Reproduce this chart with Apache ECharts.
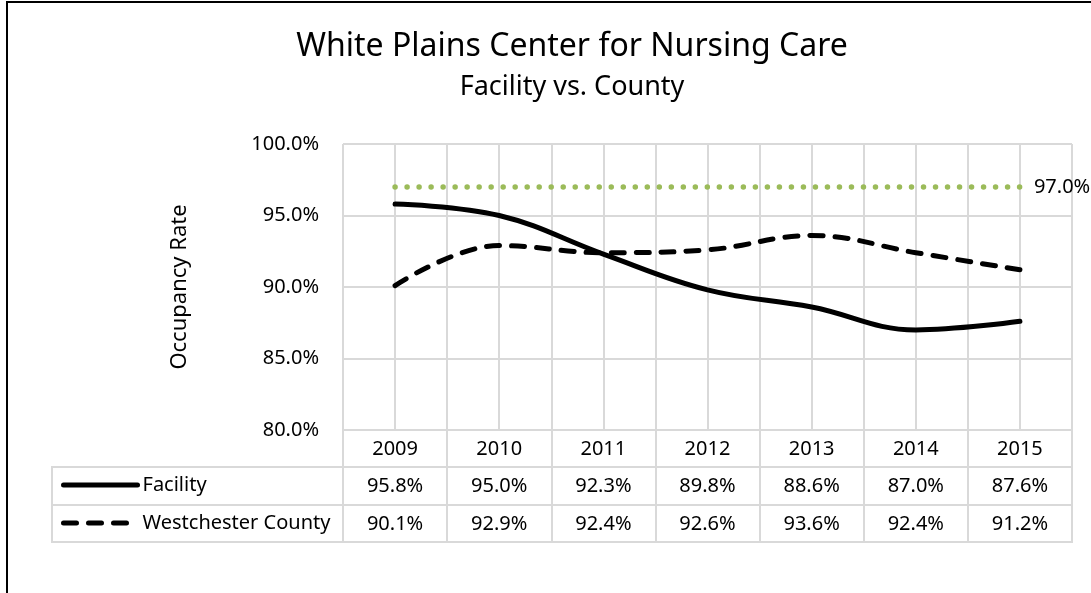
<!DOCTYPE html>
<html>
<head>
<meta charset="utf-8">
<script src="https://cdn.jsdelivr.net/npm/echarts@6/dist/echarts.min.js"></script>
<style>
  html, body { margin: 0; padding: 0; background: #fff; }
  #main { width: 1091px; height: 593px; }
</style>
</head>
<body>
<div id="main"></div>
<script>
// 数据
var years = ['2009', '2010', '2011', '2012', '2013', '2014', '2015'];
var facility = [95.8, 95.0, 92.3, 89.8, 88.6, 87.0, 87.6];
var county = [90.1, 92.9, 92.4, 92.6, 93.6, 92.4, 91.2];
var benchmark = [97.0, 97.0, 97.0, 97.0, 97.0, 97.0, 97.0];
var rowNames = ['Facility', 'Westchester County'];

var FONT = '"Noto Sans", "Open Sans", sans-serif';
var GRID_COLOR = '#D9D9D9';

function pct(v) {
    return v.toFixed(1) + '%';
}

var myChart = echarts.init(document.getElementById('main'));

myChart.setOption({
    animation: false,
    textStyle: { fontFamily: FONT },
    graphic: [
        {
            type: 'rect',
            z: -10,
            shape: { x: 7, y: 2, width: 1200, height: 700 },
            style: { fill: 'none', stroke: '#000', lineWidth: 2 }
        }
    ],
    title: [
        {
            text: 'White Plains Center for Nursing Care',
            left: 572,
            textAlign: 'center',
            top: 31,
            padding: 0,
            textStyle: { fontSize: 32, fontWeight: 'normal', color: '#000', fontFamily: FONT }
        },
        {
            text: 'Facility vs. County',
            left: 572,
            textAlign: 'center',
            top: 74,
            padding: 0,
            textStyle: { fontSize: 27, fontWeight: 'normal', color: '#000', fontFamily: FONT }
        }
    ],
    legend: {
        data: rowNames,
        orient: 'vertical',
        left: 61,
        top: 475,
        itemWidth: 74,
        itemHeight: 14,
        itemGap: 18,
        padding: 0,
        selectedMode: false,
        itemStyle: { color: 'transparent', borderColor: 'transparent', borderWidth: 0, opacity: 0 },
        lineStyle: { width: 5, cap: 'round' },
        textStyle: { fontSize: 20, color: '#000', fontFamily: FONT }
    },
    grid: [
        { left: 343, right: 19, top: 144, bottom: 163 },
        { left: 52, right: 19, top: 467, height: 75, show: true, borderColor: GRID_COLOR, borderWidth: 2 }
    ],
    xAxis: [
        {
            // 表头（年份）
            type: 'category',
            gridIndex: 0,
            data: years,
            boundaryGap: true,
            axisLine: { lineStyle: { color: GRID_COLOR, width: 2 } },
            axisTick: { show: true, length: 112, lineStyle: { color: GRID_COLOR, width: 2 } },
            axisLabel: { fontSize: 20, color: '#000', margin: 9, fontFamily: FONT },
            splitLine: { show: false }
        },
        {
            // Facility 行
            type: 'category',
            gridIndex: 0,
            data: years,
            position: 'bottom',
            offset: 37,
            axisLine: { show: false },
            axisTick: { show: false },
            axisLabel: {
                fontSize: 20, color: '#000', margin: 9, fontFamily: FONT,
                formatter: function (v, i) { return pct(facility[i]); }
            }
        },
        {
            // Westchester County 行
            type: 'category',
            gridIndex: 0,
            data: years,
            position: 'bottom',
            offset: 75,
            axisLine: { show: false },
            axisTick: { show: false },
            axisLabel: {
                fontSize: 20, color: '#000', margin: 9, fontFamily: FONT,
                formatter: function (v, i) { return pct(county[i]); }
            }
        },
        {
            // 竖向网格线（每半个类目一条）
            type: 'value',
            gridIndex: 0,
            min: 0,
            max: years.length * 2,
            interval: 1,
            axisLine: { show: false },
            axisTick: { show: false },
            axisLabel: { show: false },
            splitLine: { show: true, lineStyle: { color: GRID_COLOR, width: 2 } }
        },
        {
            type: 'value',
            gridIndex: 1,
            show: false
        }
    ],
    yAxis: [
        {
            type: 'value',
            gridIndex: 0,
            min: 80,
            max: 100,
            interval: 5,
            name: 'Occupancy Rate',
            nameLocation: 'middle',
            nameGap: 152,
            nameTextStyle: { fontSize: 22, color: '#000', fontFamily: FONT },
            axisLine: { show: false },
            axisTick: { show: false },
            axisLabel: { fontSize: 20, color: '#000', margin: 24, fontFamily: FONT, formatter: pct },
            splitLine: { lineStyle: { color: GRID_COLOR, width: 2 } }
        },
        {
            type: 'category',
            gridIndex: 1,
            data: rowNames,
            inverse: true,
            axisLine: { show: false },
            axisTick: { show: false },
            axisLabel: { show: false },
            splitLine: { show: true, lineStyle: { color: GRID_COLOR, width: 2 } }
        }
    ],
    series: [
        {
            name: 'Facility',
            type: 'line',
            xAxisIndex: 0,
            yAxisIndex: 0,
            data: facility,
            smooth: 0.4,
            symbol: 'none',
            lineStyle: { color: '#000', width: 5, cap: 'round' },
            itemStyle: { color: '#000' }
        },
        {
            name: 'Westchester County',
            type: 'line',
            xAxisIndex: 0,
            yAxisIndex: 0,
            data: county,
            smooth: 0.4,
            symbol: 'none',
            lineStyle: { color: '#000', width: 5, type: [13, 12], cap: 'round' },
            itemStyle: { color: '#000' }
        },
        {
            name: 'Benchmark',
            type: 'line',
            xAxisIndex: 0,
            yAxisIndex: 0,
            data: benchmark,
            symbol: 'none',
            silent: true,
            lineStyle: { color: '#9BBB59', width: 5.5, type: [0.01, 12], cap: 'round' },
            endLabel: {
                show: true,
                distance: 14,
                fontSize: 20,
                color: '#000',
                fontFamily: FONT,
                formatter: function (p) { return pct(benchmark[p.dataIndex]); }
            }
        }
    ]
});
</script>
</body>
</html>
